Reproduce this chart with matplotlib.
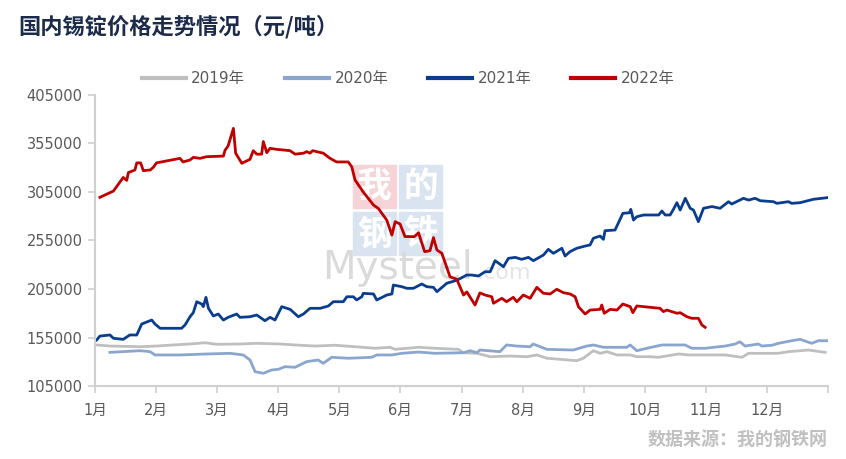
import numpy as np
import matplotlib.pyplot as plt
from matplotlib.patches import Rectangle

plt.rcParams['font.family'] = ['DejaVu Sans', 'Noto Sans CJK SC']

# 横轴: 自1月1日起的天数(按图上位置读取), 纵轴: 元/吨
months = ['1月', '2月', '3月', '4月', '5月', '6月', '7月', '8月', '9月', '10月', '11月', '12月']
yticks = [105000, 155000, 205000, 255000, 305000, 355000, 405000]

x2019 = [0.8, 7.3, 22, 30, 38, 46.4, 53.7, 59.4, 70.8, 79, 90.4, 97.7, 107.5, 117.2, 127,
         136.8, 144.1, 146.6, 158, 166, 177.5, 180, 186.5, 193, 202.7, 210.9, 215.8, 220.7,
         227.2, 235.3, 238.5, 243.4, 246.7, 250, 254.9, 261.4, 264.6, 271.1, 275.2, 285, 290,
         298, 307.8, 316, 319.2, 333.8, 338.7, 348.5, 356.6]
y2019 = [147.3, 146.2, 145.5, 146.2, 147.3, 148.3, 149.6, 148, 148.3, 149, 148.3, 147.3,
         146.2, 147, 145.5, 143.9, 144.9, 142.8, 144.9, 143.9, 142.8, 139.3, 138.7, 135.2,
         135.9, 135.2, 137, 133.6, 132.5, 131.1, 133.6, 141.4, 138.7, 140.4, 137, 137, 135.2,
         135.2, 134.6, 138, 137, 137, 137, 134.6, 138.7, 138.7, 140.4, 142.1, 139.7]

x2020 = [7.3, 22, 26.9, 29.3, 41.5, 54.5, 66, 72.4, 75.7, 78.2, 82.2, 86.3, 89.5, 92.8, 97.7,
         103.4, 109, 111.5, 115.6, 123.7, 135.2, 137.6, 145, 149.8, 158, 166, 180, 183.2,
         186.5, 188, 197.8, 201, 206, 212.5, 214, 220.7, 233.6, 240.2, 243.4, 248.3, 259.7,
         261.4, 264.6, 269.5, 276.9, 288.2, 291.5, 298, 307.8, 312.7, 315, 317.5, 324, 325.7,
         330.6, 333.8, 340.3, 344.4, 350, 353.3, 357.4]
y2020 = [139.7, 141.4, 140.4, 137, 137, 138, 138.7, 137, 131.8, 119.7, 118.1, 121.5, 122.2,
         124.9, 124.3, 130.1, 131.8, 128.4, 134.6, 133.6, 134.6, 137, 137, 138.7, 140, 138.7,
         139.3, 141.4, 139.3, 142.1, 140.4, 147.3, 146.2, 145.5, 148.3, 142.8, 142.1, 146.2,
         147.3, 144.9, 144.9, 147.3, 141.4, 143.9, 147.3, 147.3, 143.9, 143.9, 146.2, 148.3,
         150.6, 146.2, 148.3, 146.2, 147, 149, 151.7, 153.1, 149, 151.7, 151.7]

x2021 = [0.8, 2.4, 7.3, 9, 13.8, 17, 20.4, 22.8, 27.7, 29.3, 31.8, 42.3, 44, 46.4, 48, 49.7,
         52.1, 52.9, 54.2, 55.4, 57.8, 60.2, 62.7, 65, 69.2, 70.8, 75.7, 79, 83, 85.5, 87.9,
         91.2, 95.3, 99.3, 101.8, 105, 110, 114, 116.4, 121.3, 123, 126.2, 127.8, 130.3, 131,
         136, 137.6, 140.8, 142.5, 145, 145.7, 149.8, 152.3, 155.5, 159.6, 162, 165.3, 167,
         171.8, 176.7, 181.6, 184, 187.3, 190.5, 193, 195.4, 199.5, 201.9, 205.2, 208.4, 211.7,
         214.1, 219, 221.4, 223.9, 228, 229.6, 232, 235.3, 239.4, 241.8, 243.4, 246.7, 248.3,
         249.1, 254, 257.8, 261, 261.7, 263, 264.6, 267.9, 275.3, 276.9, 278.5, 280.9, 282.5,
         284.2, 285.8, 288.3, 290.7, 292.3, 294.7, 297.2, 301.3, 305.3, 309.4, 311, 316.7,
         319.2, 322.4, 324.9, 331.4, 333, 338.7, 340.3, 344.4, 350.9, 357.4]
y2021 = [152.4, 156.5, 157.6, 154.2, 153.1, 157.6, 157.6, 168.9, 173, 168.9, 164.5, 164.5,
         168, 176.4, 180.6, 191.9, 189.5, 186.8, 196.4, 185.1, 177.2, 179.2, 173, 175.8, 179.2,
         175.8, 176.4, 178.2, 172.3, 175.8, 173, 186.8, 184, 176.4, 179.2, 185.1, 185.1, 187.5,
         191.9, 191.9, 197, 197, 193.7, 197, 200.5, 199.9, 193.7, 197, 198.8, 199.9, 209.1,
         207.4, 205.7, 205.7, 210.2, 207.4, 206.7, 202.2, 210.9, 214, 219.4, 219.4, 218.4,
         222.8, 222.8, 234.2, 228, 236.6, 237.6, 235.6, 237.6, 234.2, 240, 245.9, 241.8, 247,
         239, 243.5, 247, 249.3, 250.4, 257.3, 259.6, 256.2, 265.1, 265.8, 283, 283.6, 287.1,
         276.1, 279.5, 281.3, 281.3, 285.4, 281.3, 281.3, 287.1, 294, 286.4, 298.5, 288.2,
         286.4, 274.4, 288.2, 290, 288.2, 295, 292.6, 298.5, 296.7, 298.5, 296, 295, 293.3,
         295, 293.3, 294, 297.5, 299.1]

x2022 = [2.4, 9, 13.8, 15.5, 16.3, 19.5, 20.4, 22.3, 23.6, 27, 28.5, 30, 41.5, 43, 46.4, 48,
         51.3, 54.5, 62.7, 63.5, 65, 67.6, 68.7, 71.7, 75.7, 77.3, 79, 81.4, 82.2, 83.9, 85.5,
         88.7, 95.3, 97.7, 101.8, 103.4, 105, 106.3, 111.5, 114.8, 118, 123.7, 125.4, 127, 131,
         136, 138.4, 142.5, 145, 146.6, 149, 151.4, 156, 158, 161, 163.6, 165.3, 167, 169.4,
         173.4, 176.7, 180, 181.6, 185.6, 188, 190.5, 193.8, 194.6, 198.7, 201, 204.3, 206,
         209.2, 212.5, 215.8, 219, 222.3, 225.5, 228.8, 232, 234.5, 236.1, 239.4, 241.8, 246.7,
         247.5, 248.7, 251.6, 254.9, 257.8, 261.4, 262.7, 264.6, 276, 277.6, 279.3, 284.2,
         285.8, 289, 291.5, 294.7, 296.4, 298]
y2022 = [299.5, 306, 320, 317, 325, 327.7, 335, 335, 327, 327.7, 330.5, 335, 339.7, 336, 338,
         340.7, 339.7, 341.4, 342, 348, 352.4, 370.6, 345, 334.6, 338.7, 347.6, 344, 344, 357,
         345.5, 350, 349, 347.6, 344, 345, 346.6, 345, 347.6, 345, 339.7, 336, 336, 331, 317.4,
         305, 291.6, 288, 276, 260.6, 274.4, 272, 259, 259, 263, 243.5, 244.5, 258, 245.2,
         241.8, 217.6, 215, 198.8, 202, 188.5, 201, 198.8, 197, 190.3, 195.4, 191.9, 196.4,
         191.9, 198.8, 195.4, 206.7, 200.6, 199.9, 204.7, 201.2, 199.9, 197, 186.8, 179.2,
         183.3, 184, 188.5, 180, 184, 183.3, 189.5, 186.8, 180.6, 187.5, 185.1, 181.7, 183.3,
         180, 180.6, 176.5, 174.8, 174.8, 167.9, 165.5]

W, H = 846, 459
fig = plt.figure(figsize=(W / 100, H / 100), dpi=100)


def fx(px):
    return px / W


def fy(py):
    return 1 - py / H


# 水印 (画在曲线下面)
for (x0, y0, c, ch) in [(353, 165, '#f6d3d6', '我'), (399, 165, '#d9e4f0', '的'),
                        (353, 212, '#d9e4f0', '钢'), (399, 212, '#d9e4f0', '铁')]:
    fig.patches.append(Rectangle((fx(x0), fy(y0 + 43)), 43 / W, 43 / H,
                                 transform=fig.transFigure, color=c, zorder=-2))
    fig.text(fx(x0 + 21.5), fy(y0 + 21.5), ch, color='white', fontsize=25,
             family='Noto Sans CJK SC', weight='bold', ha='center', va='center', zorder=-1)
fig.text(fx(322), fy(279), 'Mysteel', color='#dadada', fontsize=28,
         ha='left', va='baseline', zorder=-1)
fig.text(fx(477), fy(279), '.com', color='#e4e4e4', fontsize=16,
         ha='left', va='baseline', zorder=-1)

ax = fig.add_axes([fx(95), fy(386), fx(828) - fx(95), fy(95) - fy(386)])
ax.patch.set_alpha(0)
ax.set_zorder(2)

ax.plot(x2019, np.array(y2019) * 1000, color='#bfbfbf', lw=2.0, label='2019年')
ax.plot(x2020, np.array(y2020) * 1000, color='#8aa6cf', lw=2.0, label='2020年')
ax.plot(x2021, np.array(y2021) * 1000, color='#0a3d8f', lw=2.0, label='2021年')
ax.plot(x2022, np.array(y2022) * 1000, color='#c00000', lw=2.0, label='2022年')

ax.set_xlim(0, 358)
ax.set_ylim(105000, 405000)
xt = np.linspace(0, 358, 13)
ax.set_xticks(xt)
ax.set_xticklabels(months + [''])
ax.set_yticks(yticks)
ax.set_yticklabels([str(v) for v in yticks])

for s in ['top', 'right']:
    ax.spines[s].set_visible(False)
for s in ['left', 'bottom']:
    ax.spines[s].set_color('#d0d0d0')
    ax.spines[s].set_linewidth(1.5)
ax.tick_params(axis='both', colors='#d0d0d0', labelcolor='#595959', labelsize=10.5,
               length=5, width=1.2)
ax.tick_params(axis='x', pad=7)
ax.tick_params(axis='y', pad=4)

leg = fig.legend(loc='center', bbox_to_anchor=(fx(408), fy(79)), ncol=4, frameon=False,
                 handlelength=2.9, handletextpad=0.35, columnspacing=2.6,
                 prop={'size': 11}, labelcolor='#595959')
for h in leg.get_lines():
    h.set_linewidth(3)

fig.text(fx(18), fy(27), '国内锡锭价格走势情况（元/吨）', fontsize=16, weight='bold',
         color='#1c2b4a', family=['Noto Sans CJK SC'], ha='left', va='center')
fig.text(fx(828), fy(440), '数据来源：我的钢铁网', fontsize=13, weight='bold',
         color='#c0c0c0', family=['Noto Sans CJK SC'], ha='right', va='center')

fig.savefig('out.png', dpi=100)
